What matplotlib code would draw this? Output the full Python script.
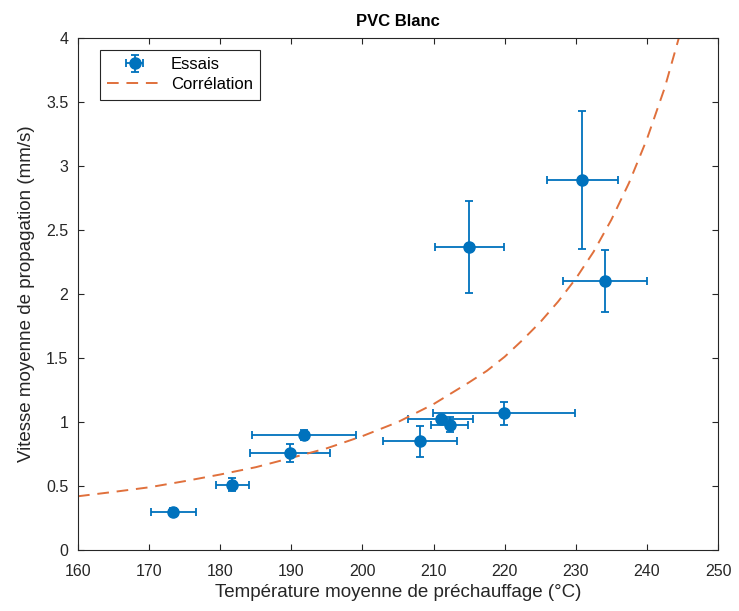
import numpy as np
import matplotlib.pyplot as plt

plt.rcParams['font.family'] = ['Liberation Sans', 'DejaVu Sans']

# measured points (temperature, speed) with errors
temp = [173.4, 181.7, 189.8, 191.8, 208.1, 211.0, 212.3, 219.9, 215.0, 230.9, 234.1]
temp_err = [3.2, 2.3, 5.6, 7.3, 5.2, 4.6, 2.6, 10.0, 4.85, 5.0, 5.9]
speed = [0.30, 0.51, 0.76, 0.90, 0.85, 1.02, 0.98, 1.07, 2.37, 2.89, 2.10]
speed_err = [0.03, 0.05, 0.07, 0.04, 0.12, 0.03, 0.06, 0.09, 0.36, 0.54, 0.24]

# correlation curve
corr_t = [160, 165, 170, 175, 180, 185, 190, 195, 200, 205, 210, 215, 217.5, 220, 222.5,
          225, 227.5, 230, 232.5, 235, 237.5, 240, 242.5, 245]
corr_v = [0.42, 0.454, 0.49, 0.538, 0.59, 0.647, 0.72, 0.795, 0.89, 1.00, 1.14, 1.31, 1.40,
          1.51, 1.64, 1.78, 1.94, 2.12, 2.33, 2.58, 2.87, 3.21, 3.61, 4.10]

fig = plt.figure(figsize=(7.39, 6.11), dpi=100)
ax = fig.add_axes([0.1056, 0.0998, 0.866, 0.838])

eb = ax.errorbar(temp, speed, xerr=temp_err, yerr=speed_err, fmt='o', color='#0072BD',
                 markersize=8, capsize=3, elinewidth=1.3, capthick=1.3, label='Essais')
ln, = ax.plot(corr_t, corr_v, '--', color='#E0703C', lw=1.4, dashes=(6, 4), label='Corrélation')

ax.set_xlim(160, 250)
ax.set_ylim(0, 4)
ax.set_xticks(np.arange(160, 251, 10))
ax.set_yticks(np.arange(0, 4.01, 0.5))
ax.set_yticklabels(['0', '0.5', '1', '1.5', '2', '2.5', '3', '3.5', '4'])
ax.tick_params(direction='in', labelsize=11.5, colors='#262626', length=4, top=True, right=True,
               labeltop=False, labelright=False)
ax.tick_params(axis='x', pad=10)
ax.tick_params(axis='y', pad=7)
for s in ax.spines.values():
    s.set_color('#262626')
    s.set_linewidth(0.8)

ax.set_xlabel('Température moyenne de préchauffage (°C)', fontsize=13.5, color='#262626',
              labelpad=4)
ax.set_ylabel('Vitesse moyenne de propagation (mm/s)', fontsize=13.5, color='#262626',
              labelpad=8)
ax.set_title('PVC Blanc', fontsize=12, fontweight='bold', pad=9)

leg = ax.legend([eb, ln], ['Essais', 'Corrélation'], loc='upper left',
                bbox_to_anchor=(0.034, 0.977), borderaxespad=0,
                fontsize=12, fancybox=False, edgecolor='#262626', framealpha=1,
                handlelength=3.3, borderpad=0.45, labelspacing=0.3, handletextpad=0.5)
leg.get_frame().set_linewidth(0.8)

fig.savefig('out.png')
